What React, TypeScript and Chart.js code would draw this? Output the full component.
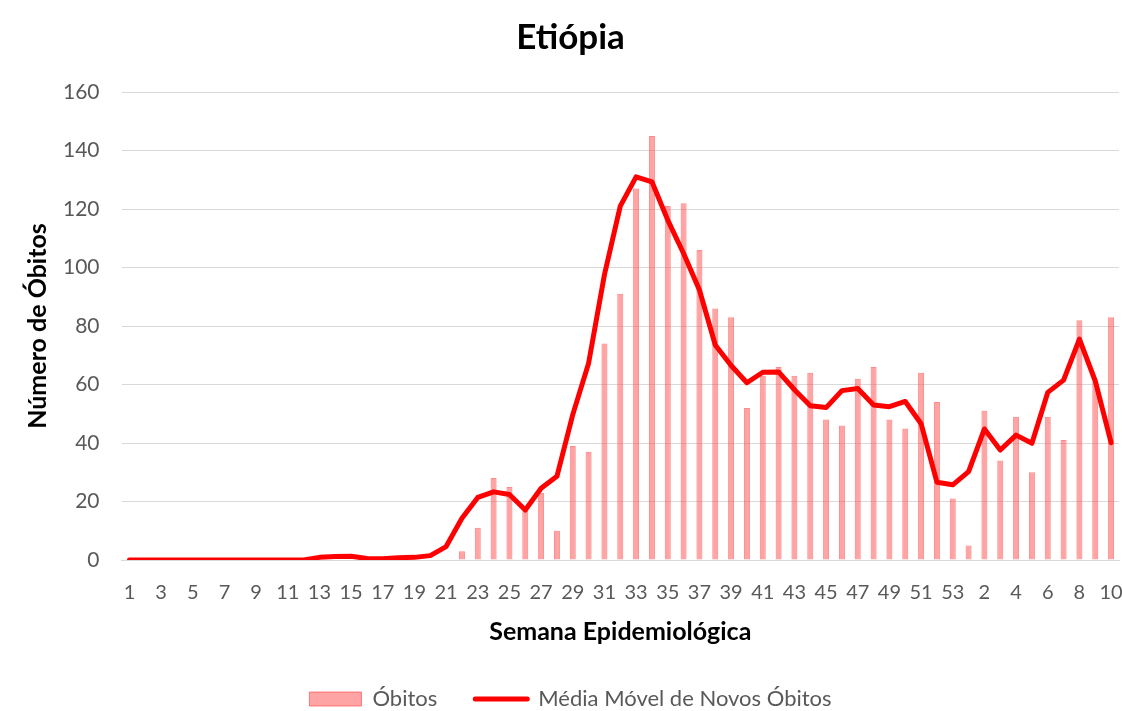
import React, { useEffect, useRef } from "react";
import { Chart, registerables } from "chart.js";

Chart.register(...registerables);

const semanas: string[] = [
  "1","2","3","4","5","6","7","8","9","10","11","12","13","14","15","16","17","18","19","20",
  "21","22","23","24","25","26","27","28","29","30","31","32","33","34","35","36","37","38","39","40",
  "41","42","43","44","45","46","47","48","49","50","51","52","53",
  "1","2","3","4","5","6","7","8","9","10",
];

const obitos: number[] = [
  0,0,0,0,0,0,0,0,0,0,0,0,0,0,0,0,0,0,0,0,0,
  3,11,28,25,17,23,10,39,37,74,91,127,145,121,122,106,86,83,52,
  63,66,63,64,48,46,62,66,48,45,64,54,21,
  5,51,34,49,30,49,41,82,61,83,
];

const mediaMovel: number[] = [
  0,0,0,0,0,0,0,0,0,0,0,0,
  0.9,1.2,1.3,0.5,0.4,0.8,0.9,1.5,4.6,
  14.3,21.4,23.3,22.4,17.1,24.5,28.6,49.7,67.3,97.5,121,131,129.3,116.2,104.8,92.3,73.5,66.5,60.6,
  64.2,64.3,58.2,52.7,52.1,57.9,58.6,53,52.4,54.2,46.6,26.6,25.7,
  30.2,44.8,37.6,42.7,39.9,57.3,61.5,75.5,61.2,40.1,
];

const yTicks: number[] = [0, 20, 40, 60, 80, 100, 120, 140, 160];

const FONT = "Lato, 'Open Sans', sans-serif";
const BAR_FILL = "rgba(255, 90, 90, 0.55)";
const BAR_BORDER = "rgba(255, 60, 60, 0.6)";
const LINE_COLOR = "#FF0000";

export default function App() {
  const ref = useRef<HTMLCanvasElement | null>(null);

  useEffect(() => {
    document.body.style.margin = "0";
    const canvas = ref.current;
    if (!canvas) return;
    const chart = new Chart(canvas, {
      type: "bar",
      data: {
        labels: semanas,
        datasets: [
          {
            type: "bar",
            label: "Óbitos",
            data: obitos,
            backgroundColor: BAR_FILL,
            borderColor: BAR_BORDER,
            borderWidth: 1,
            barPercentage: 0.38,
            categoryPercentage: 1,
            order: 1,
          },
          {
            type: "line",
            label: "Média Móvel de Novos Óbitos",
            data: mediaMovel,
            borderColor: LINE_COLOR,
            backgroundColor: LINE_COLOR,
            borderWidth: 5,
            pointRadius: 0,
            tension: 0,
            borderJoinStyle: "round",
            borderCapStyle: "round",
            order: 0,
          } as any,
        ],
      },
      options: {
        animation: false,
        responsive: false,
        maintainAspectRatio: false,
        layout: { padding: { left: 22, right: 3, top: 0, bottom: -9 } },
        plugins: {
          tooltip: { enabled: false },
          title: {
            display: true,
            text: "Etiópia",
            color: "#000000",
            font: { family: FONT, size: 35, weight: "bold" },
            padding: { top: 17, bottom: 33 },
          },
          legend: {
            position: "bottom",
            labels: {
              color: "#595959",
              font: { family: FONT, size: 22 },
              usePointStyle: true,
              pointStyleWidth: 52,
              boxHeight: 14,
              padding: 38,
              generateLabels: () => [
                {
                  text: "Óbitos",
                  fillStyle: BAR_FILL,
                  strokeStyle: BAR_BORDER,
                  lineWidth: 1,
                  pointStyle: "rect",
                  datasetIndex: 0,
                  hidden: false,
                  fontColor: "#595959",
                } as any,
                {
                  text: "Média Móvel de Novos Óbitos",
                  fillStyle: LINE_COLOR,
                  strokeStyle: LINE_COLOR,
                  lineWidth: 5,
                  lineCap: "round",
                  pointStyle: "line",
                  datasetIndex: 1,
                  hidden: false,
                  fontColor: "#595959",
                } as any,
              ],
            },
          },
        },
        scales: {
          x: {
            offset: true,
            grid: { display: false, drawTicks: false },
            border: { display: true, color: "#d9d9d9", width: 1 },
            afterFit: (scale: any) => {
              scale.paddingRight = 0;
              scale.paddingLeft = 0;
            },
            ticks: {
              autoSkip: false,
              maxRotation: 0,
              minRotation: 0,
              color: "#595959",
              font: { family: FONT, size: 20 },
              padding: 21,
              callback: (_v: any, i: number) => (i % 2 === 0 ? semanas[i] : ""),
            },
            title: {
              display: true,
              text: "Semana Epidemiológica",
              color: "#000000",
              font: { family: FONT, size: 25, weight: "bold" },
              padding: { top: -9, bottom: 3 },
            },
          },
          y: {
            min: yTicks[0],
            max: yTicks[yTicks.length - 1],
            grid: { color: "#d9d9d9", drawTicks: false, lineWidth: 1 },
            border: { display: false },
            afterBuildTicks: (axis: any) => {
              axis.ticks = yTicks.map((v) => ({ value: v }));
            },
            ticks: {
              color: "#595959",
              font: { family: FONT, size: 21 },
              padding: 22,
            },
            title: {
              display: true,
              text: "Número de Óbitos",
              color: "#000000",
              font: { family: FONT, size: 25, weight: "bold" },
              padding: { top: 1, bottom: -12 },
            },
          },
        },
      },
    });
    return () => chart.destroy();
  }, []);

  return (
    <div style={{ width: 1122, height: 711 }}>
      <canvas ref={ref} width={1122} height={711} style={{ width: 1122, height: 711, display: "block" }} />
    </div>
  );
}
